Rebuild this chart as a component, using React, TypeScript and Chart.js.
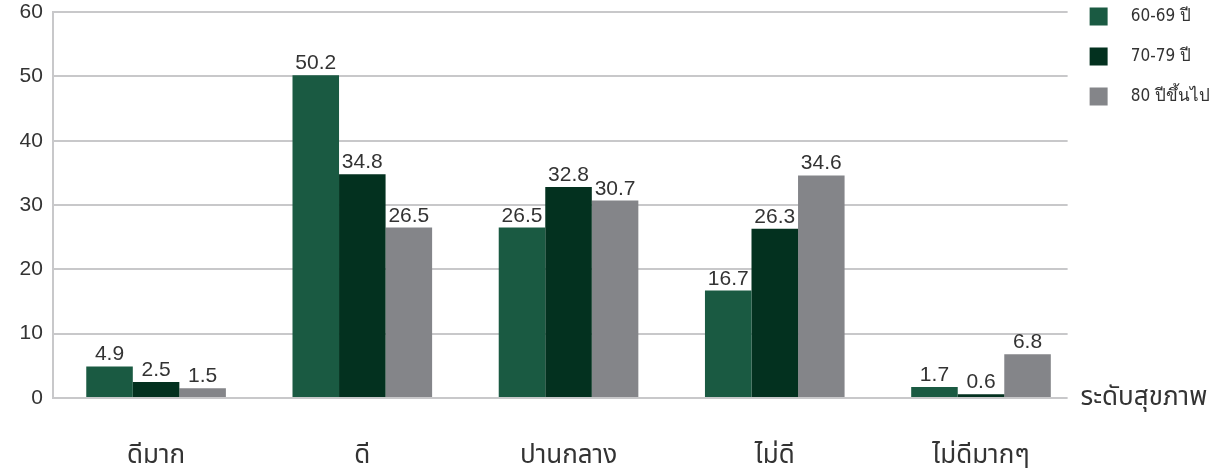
import React, { useEffect, useRef } from 'react';
import { Chart, registerables } from 'chart.js';

Chart.register(...registerables);

const categories = ['ดีมาก', 'ดี', 'ปานกลาง', 'ไม่ดี', 'ไม่ดีมากๆ'];
const seriesNames = ['60-69 ปี', '70-79 ปี', '80 ปีขึ้นไป'];
const age60to69 = [4.9, 50.2, 26.5, 16.7, 1.7];
const age70to79 = [2.5, 34.8, 32.8, 26.3, 0.6];
const age80plus = [1.5, 26.5, 30.7, 34.6, 6.8];
const yTickValues = [0, 10, 20, 30, 40, 50, 60];
const xAxisTitle = 'ระดับสุขภาพ';

const seriesColors = ['#1a5a42', '#03311f', '#848589'];
const TEXT = '#333333';
const GRID = '#c8c8ca';
const FONT = '"Liberation Sans", Arial, "Noto Sans Thai", sans-serif';
const NARROW = '"Liberation Sans Narrow", "DejaVu Sans Condensed", "Liberation Sans", sans-serif';

const valueLabels = {
  id: 'valueLabels',
  afterDatasetsDraw(chart: any) {
    const ctx = chart.ctx;
    ctx.save();
    ctx.font = '21px ' + FONT;
    ctx.fillStyle = TEXT;
    ctx.textAlign = 'center';
    ctx.textBaseline = 'alphabetic';
    chart.data.datasets.forEach((ds: any, di: number) => {
      const meta = chart.getDatasetMeta(di);
      meta.data.forEach((bar: any, i: number) => {
        const v = ds.data[i].y as number;
        ctx.fillText(v.toFixed(1), bar.x, bar.y - 6);
      });
    });
    ctx.restore();
  },
};

const axisTitle = {
  id: 'axisTitle',
  afterDraw(chart: any) {
    const ctx = chart.ctx;
    const y = chart.scales.y.getPixelForValue(0);
    ctx.save();
    ctx.font = '26px ' + FONT;
    ctx.fillStyle = TEXT;
    ctx.textAlign = 'left';
    ctx.textBaseline = 'middle';
    ctx.fillText(xAxisTitle, chart.chartArea.right + 13, y);
    ctx.restore();
  },
};

export default function App() {
  const ref = useRef<HTMLCanvasElement>(null);

  useEffect(() => {
    document.body.style.margin = '0';
    if (!ref.current) return;
    const seriesValues = [age60to69, age70to79, age80plus];
    const chart = new Chart(ref.current, {
      type: 'bar',
      data: {
        datasets: seriesNames.map((name, si) => ({
          label: name,
          data: seriesValues[si].map((y, i) => ({ x: i, y })),
          backgroundColor: seriesColors[si],
          borderWidth: 0,
          barPercentage: 1,
          categoryPercentage: 0.677,
        })),
      },
      options: {
        animation: false,
        responsive: true,
        maintainAspectRatio: false,
        layout: { padding: { left: 9.6, top: -14.5, bottom: -39.2, right: 10 } },
        plugins: {
          tooltip: { enabled: false },
          legend: {
            position: 'right',
            align: 'start',
            labels: {
              boxWidth: 18,
              boxHeight: 18,
              padding: 22,
              color: TEXT,
              font: { size: 17, family: NARROW },
              generateLabels: (chart: any) =>
                Chart.defaults.plugins.legend.labels
                  .generateLabels(chart)
                  .map((l: any) => ({ ...l, text: '\u00a0\u00a0\u00a0' + l.text })),
            },
          },
        },
        scales: {
          x: {
            type: 'linear',
            min: -0.5,
            max: 4.42,
            offset: false,
            grid: { display: false, drawTicks: false },
            border: { display: false },
            afterBuildTicks: (scale: any) => {
              scale.ticks = categories.map((_, i) => ({ value: i }));
            },
            ticks: {
              callback: (v: any) => categories[v as number] ?? '',
              padding: 42,
              autoSkip: false,
              maxRotation: 0,
              color: TEXT,
              font: { size: 26, family: FONT },
            },
          },
          y: {
            min: 0,
            max: 60,
            afterBuildTicks: (scale: any) => {
              scale.ticks = yTickValues.map((v) => ({ value: v }));
            },
            grid: { color: GRID, lineWidth: 2, drawTicks: false },
            border: { display: true, color: GRID, width: 2 },
            ticks: {
              padding: 10,
              color: TEXT,
              font: { size: 21, family: FONT, lineHeight: 0.2 },
            },
          },
        },
      },
      plugins: [valueLabels, axisTitle],
    } as any);
    return () => chart.destroy();
  }, []);

  return (
    <div style={{ position: 'relative', width: 1230, height: 474 }}>
      <canvas ref={ref} />
    </div>
  );
}
